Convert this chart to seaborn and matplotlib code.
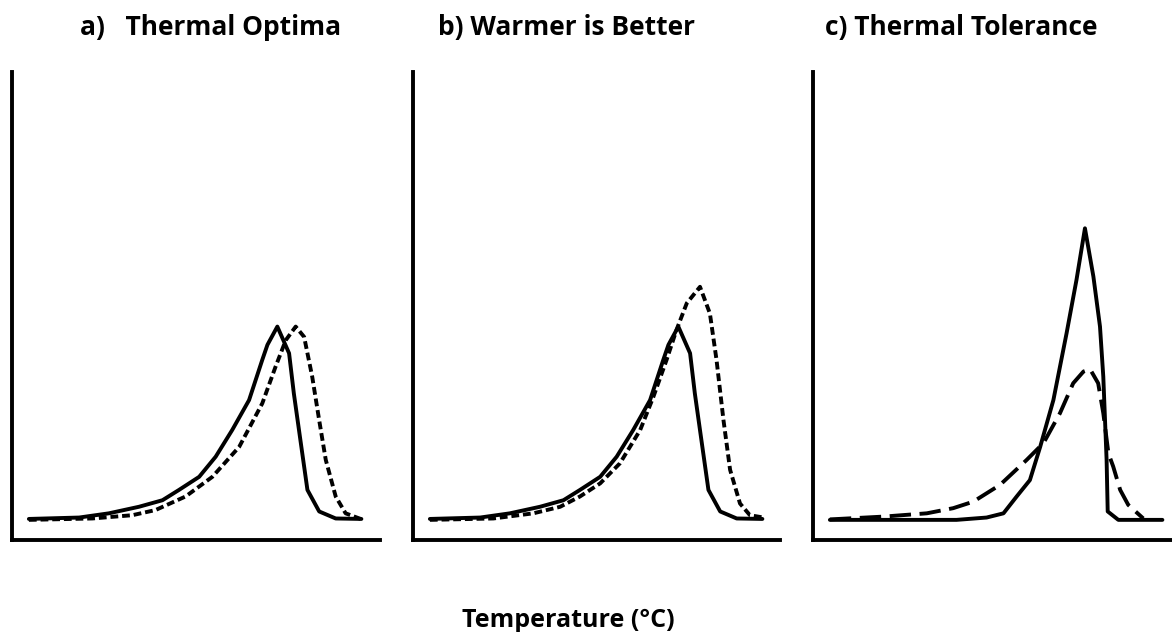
import pandas as pd
import numpy as np
import seaborn as sns
import matplotlib.pyplot as plt

# Data (0-100 scale on both axes)
# ==============================================================================
a_solid_x = [4.6, 18.3, 26.4, 34.6, 41.0, 45.5, 51.0, 55.5, 60.0, 64.6, 68.2, 69.6, 72.3,
             75.5, 76.8, 78.7, 80.5, 83.7, 88.2, 95.2]
a_solid_y = [4.5, 4.8, 5.7, 7.1, 8.5, 10.7, 13.5, 17.8, 23.5, 29.9, 38.5, 41.7, 45.6,
             39.9, 31.3, 20.7, 10.7, 6.1, 4.6, 4.5]
a_dash_x = [4.6, 21.9, 32.8, 39.1, 47.3, 54.6, 61.9, 68.2, 71.8, 74.6, 77.3, 79.6, 81.8,
            83.7, 85.5, 88.2, 90.9, 95.0]
a_dash_y = [4.3, 4.6, 5.3, 6.4, 9.3, 13.5, 19.9, 29.2, 37.0, 42.7, 45.6, 43.4, 34.9,
            25.6, 17.1, 9.3, 5.7, 4.5]

b_solid_x = a_solid_x
b_solid_y = a_solid_y
b_dash_x = [4.6, 21.9, 32.8, 40.1, 45.5, 51.0, 56.4, 61.9, 65.5, 69.1, 71.8, 74.6, 78.2,
            80.9, 82.7, 84.6, 86.4, 89.1, 91.8, 95.5]
b_dash_y = [4.3, 4.6, 5.7, 7.1, 9.3, 12.1, 16.4, 23.5, 30.6, 38.5, 44.9, 50.6, 54.1,
            48.4, 38.5, 25.6, 15.0, 7.8, 5.3, 4.8]

c_solid_x = [4.6, 39.1, 47.3, 51.9, 55.5, 59.1, 61.9, 65.5, 69.1, 71.8, 74.1, 76.4, 78.2,
             79.1, 80.0, 80.3, 83.2, 95.2]
c_solid_y = [4.3, 4.3, 4.8, 5.7, 9.3, 12.8, 19.9, 29.9, 44.2, 55.6, 66.6, 56.3, 45.6,
             34.9, 17.1, 6.1, 4.3, 4.3]
c_dash_x = [4.6, 19.2, 31.0, 38.2, 43.7, 51.0, 58.2, 62.8, 67.3, 70.9, 73.7, 75.5, 77.7,
            79.1, 80.5, 81.8, 83.7, 85.9, 90.0]
c_dash_y = [4.4, 5.0, 5.7, 6.8, 8.2, 11.8, 17.1, 20.7, 27.1, 33.5, 36.0, 36.5, 33.5,
            27.1, 18.5, 15.7, 10.7, 7.5, 4.6]

titles = ['a)   Thermal Optima', 'b) Warmer is Better', 'c) Thermal Tolerance']
title_x = [211, 567, 961]
xlabel = 'Temperature (°C)'

panels = [
    (a_solid_x, a_solid_y, a_dash_x, a_dash_y),
    (b_solid_x, b_solid_y, b_dash_x, b_dash_y),
    (c_solid_x, c_solid_y, c_dash_x, c_dash_y),
]

# Figure
# ==============================================================================
sns.set_style("white")
plt.rcParams['font.family'] = ['Open Sans', 'DejaVu Sans']

W, H = 1172, 632
fig = plt.figure(figsize=(W / 100, H / 100), dpi=100)

# axes boxes in pixels: left, right
boxes = [(12, 380), (413, 780), (813, 1172)]
bottom_px, top_px = 540, 72
px_per_unit = 3.67
lw = 2.8

dash_styles = [(2.0, 1.0), (2.0, 1.0), (5.5, 2.2)]

for i, ((sx, sy, dx, dy), (l, r)) in enumerate(zip(panels, boxes)):
    ax = fig.add_axes([l / W, (H - bottom_px) / H, (r - l) / W, (bottom_px - top_px) / H])
    df = pd.concat([
        pd.DataFrame({'temp': sx, 'perf': sy, 'kind': 'solid'}),
        pd.DataFrame({'temp': dx, 'perf': dy, 'kind': 'dashed'}),
    ], ignore_index=True)
    sns.lineplot(data=df, x='temp', y='perf', style='kind', units='kind', estimator=None,
                 sort=False, color='black', linewidth=lw,
                 dashes={'solid': '', 'dashed': dash_styles[i]}, legend=False, ax=ax)
    ax.set_xlim(0, (r - l) / px_per_unit)
    ax.set_ylim(0, 100)
    ax.set_xticks([])
    ax.set_yticks([])
    ax.set_xlabel('')
    ax.set_ylabel('')
    for side in ['top', 'right']:
        ax.spines[side].set_visible(False)
    for side in ['left', 'bottom']:
        ax.spines[side].set_color('black')
        ax.spines[side].set_linewidth(lw)

    fig.text(title_x[i] / W, 1 - 35 / H, titles[i], ha='center', va='baseline',
             fontsize=19, fontweight='bold', color='black')

fig.text(568 / W, 1 - 627 / H, xlabel, ha='center', va='baseline',
         fontsize=18, fontweight='bold', color='black')

fig.savefig('out.png', dpi=100)
